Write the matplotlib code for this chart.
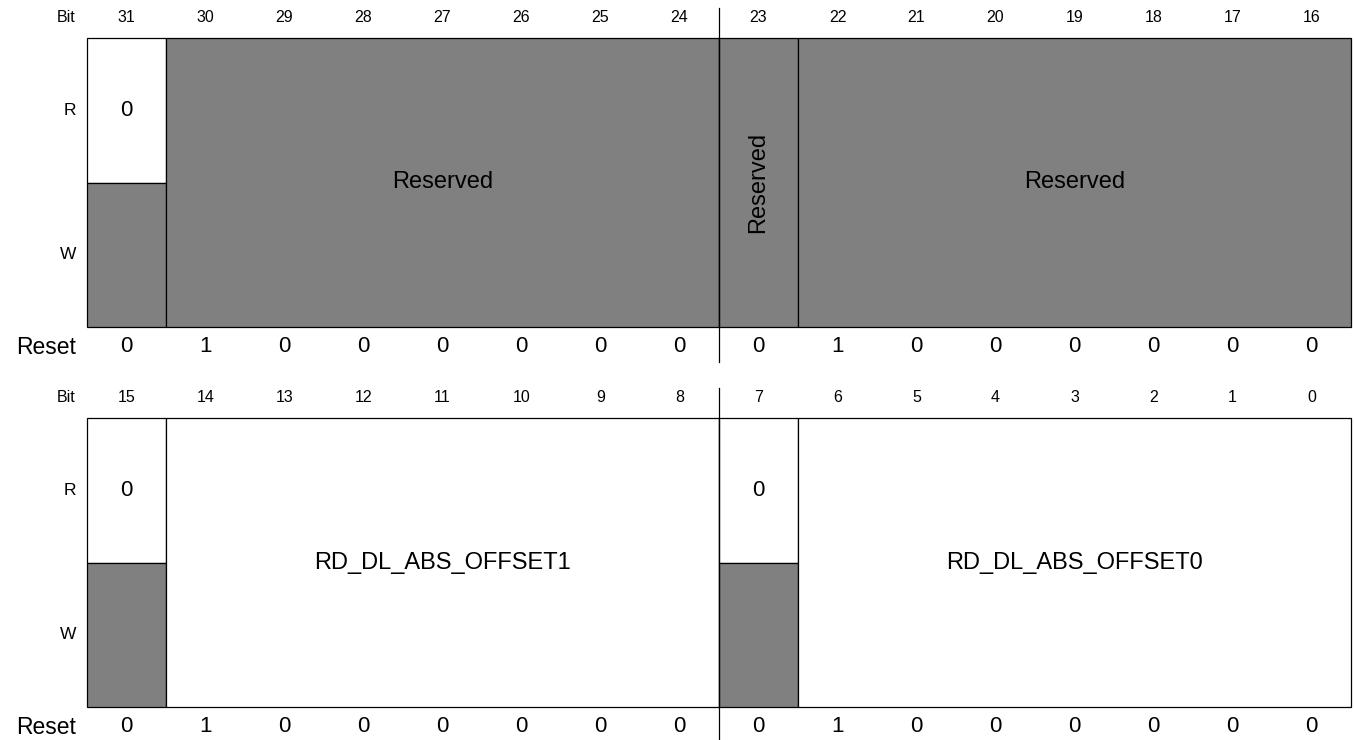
import matplotlib
matplotlib.use("Agg")
import matplotlib.pyplot as plt
from matplotlib.patches import Rectangle

plt.rcParams['font.family'] = ['Liberation Sans', 'DejaVu Sans']

GRAY = '#808080'

# register fields: (name, msb, lsb, read access, write access)
# 'rsvd'/'field' -> one cell over R and W, 'zero' -> R reads 0, 'none' -> gray
hi_fields = [('0', 31, 31, 'zero', 'none'),
             ('Reserved', 30, 24, 'rsvd', 'rsvd'),
             ('Reserved', 23, 23, 'rsvd', 'rsvd'),
             ('Reserved', 22, 16, 'rsvd', 'rsvd')]
lo_fields = [('0', 15, 15, 'zero', 'none'),
             ('RD_DL_ABS_OFFSET1', 14, 8, 'field', 'field'),
             ('0', 7, 7, 'zero', 'none'),
             ('RD_DL_ABS_OFFSET0', 6, 0, 'field', 'field')]
hi_reset = [0, 1, 0, 0, 0, 0, 0, 0, 0, 1, 0, 0, 0, 0, 0, 0]
lo_reset = [0, 1, 0, 0, 0, 0, 0, 0, 0, 1, 0, 0, 0, 0, 0, 0]

# layout in pixels
X0 = 87
CW = 79
ROW_H = 144.5
BODY = 17


def draw_register(ax, top, top_bit, fields, reset):
    def xl(bit):
        return X0 + (top_bit - bit) * CW

    mid = top + ROW_H
    bot = top + 2 * ROW_H
    # header
    ax.text(76, top - 20, 'Bit', ha='right', va='center', fontsize=11.5)
    for i in range(16):
        ax.text(xl(top_bit - i) + CW / 2, top - 20, str(top_bit - i),
                ha='center', va='center', fontsize=11.5)
    ax.text(76, (top + mid) / 2, 'R', ha='right', va='center', fontsize=12.5)
    ax.text(76, (mid + bot) / 2, 'W', ha='right', va='center', fontsize=12.5)
    ax.text(76, bot + 20, 'Reset', ha='right', va='center', fontsize=16.5)
    for i, v in enumerate(reset):
        ax.text(xl(top_bit - i) + CW / 2, bot + 20, str(v),
                ha='center', va='center', fontsize=16)

    for name, msb, lsb, r, w in fields:
        x = xl(msb)
        wd = (msb - lsb + 1) * CW
        if r == w:
            fc = GRAY if r == 'rsvd' else 'white'
            ax.add_patch(Rectangle((x, top), wd, 2 * ROW_H, fc=fc,
                                   ec='black', lw=0.9))
            rot = 90 if msb == lsb else 0
            ax.text(x + wd / 2, mid, name, rotation=rot, ha='center',
                    va='center', fontsize=BODY)
        else:
            ax.add_patch(Rectangle((x, top), wd, ROW_H, fc='white',
                                   ec='black', lw=0.9))
            ax.add_patch(Rectangle((x, mid), wd, ROW_H, fc=GRAY,
                                   ec='black', lw=0.9))
            ax.text(x + wd / 2, (top + mid) / 2, name, ha='center',
                    va='center', fontsize=16)

    # byte divider
    xd = xl(top_bit - 8)
    ax.plot([xd, xd], [top - 30, bot + 35], color='black', lw=0.9)


fig = plt.figure(figsize=(13.54, 7.40), dpi=100)
ax = fig.add_axes([0, 0, 1, 1])
ax.set_xlim(0, 1354)
ax.set_ylim(740, 0)
ax.axis('off')

draw_register(ax, 38, 31, hi_fields, hi_reset)
draw_register(ax, 418, 15, lo_fields, lo_reset)

fig.savefig('out.png', dpi=100)
